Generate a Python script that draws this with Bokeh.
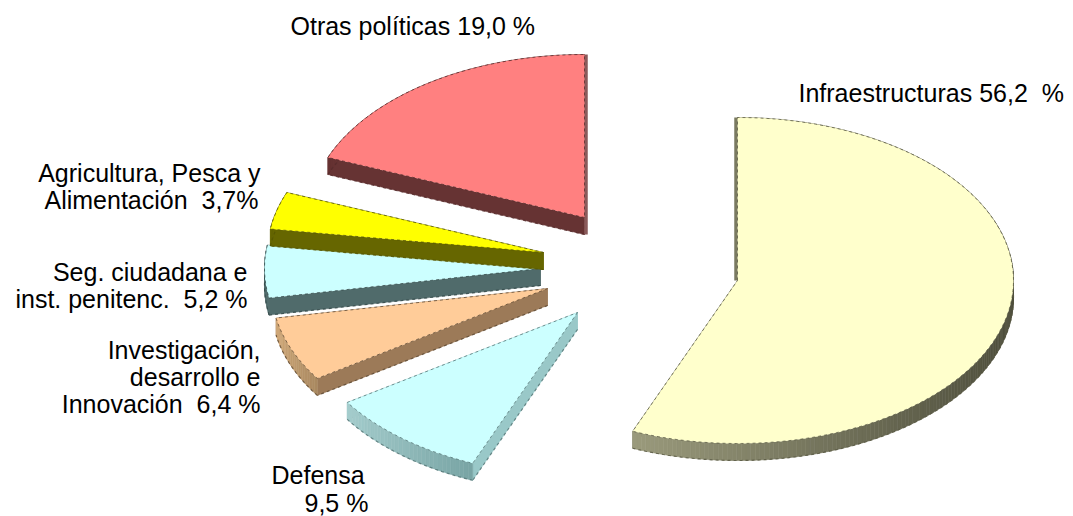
import numpy as np
from bokeh.plotting import figure
from bokeh.core.properties import value
from bokeh.embed import file_html
from bokeh.resources import INLINE

# ---- data ----
categories = ["Infraestructuras", "Defensa", "Investigación, desarrollo e Innovación",
              "Seg. ciudadana e inst. penitenc.", "Agricultura, Pesca y Alimentación",
              "Otras políticas"]
shares = [56.2, 9.5, 6.4, 5.2, 3.7, 19.0]

# ---- styles and layout ----
top_colors = ["#FFFFCC", "#CCFFFF", "#FFCC99", "#CCFFFF", "#FFFF00", "#FF8080"]
face_colors = ["#6F6F55", "#99C8C8", "#9C7A58", "#506B6B", "#666600", "#663333"]
strip_colors = ["#7A7A60", "#99C8C8", "#9C7A58", "#506B6B", "#666600", "#8A5A5A"]
rim_left = ["#9A9A7C", "#A4CCCC", "#D0A878", "#506B6B", "#666600", "#663333"]
rim_right = ["#4E4E3C", "#78A4A4", "#A88860", "#506B6B", "#666600", "#663333"]
edge_colors = ["#55553F", "#4F7070", "#5A4630", "#2F4545", "#555500", "#552A2A"]
apex_x = [737, 577, 547, 540, 543, 584]
apex_y = [280, 312, 288, 268, 252, 217]
RX, RY, DEPTH = 276, 163, 17
draw_order = [5, 3, 4, 2, 1, 0]

label_lines = [
    ("Otras políticas 19,0 %", 290, 25, "left"),
    ("Infraestructuras 56,2\u00a0 %", 798, 92, "left"),
    ("Agricultura, Pesca y", 260, 172, "right"),
    ("Alimentación\u00a0 3,7%", 258, 199, "right"),
    ("Seg. ciudadana e", 247, 271, "right"),
    ("inst. penitenc.\u00a0 5,2 %", 247, 298, "right"),
    ("Investigación,", 260, 349, "right"),
    ("desarrollo e", 260, 376, "right"),
    ("Innovación\u00a0 6,4 %", 260, 403, "right"),
    ("Defensa", 271, 474, "left"),
    ("9,5 %", 304, 502, "left"),
]


def hex_rgb(c):
    return np.array([int(c[i:i + 2], 16) for i in (1, 3, 5)], dtype=float)


def mix(a, b, t):
    rgb = (1 - t) * hex_rgb(a) + t * hex_rgb(b)
    return "#%02x%02x%02x" % tuple(int(round(v)) for v in rgb)


p = figure(width=1073, height=516, x_range=(0, 1073), y_range=(516, 0),
           output_backend="svg", toolbar_location=None, x_axis_type=None,
           y_axis_type=None, min_border=0, outline_line_color=None)
p.grid.visible = False
p.background_fill_color = "#FFFFFF"

bounds = np.concatenate([[0], np.cumsum(shares)]) / sum(shares) * 2 * np.pi

for i in draw_order:
    a0, a1 = bounds[i], bounds[i + 1]
    cx, cy = apex_x[i], apex_y[i]
    t = np.linspace(a0, a1, max(8, int((a1 - a0) * 60)))
    ax = cx + RX * np.sin(t)
    ay = cy - RY * np.cos(t)

    # radial cut faces (extruded downward)
    for ang in (a1, a0):
        ex, ey = cx + RX * np.sin(ang), cy - RY * np.cos(ang)
        p.patch([cx, ex, ex, cx], [cy, ey, ey + DEPTH, cy + DEPTH],
                fill_color=face_colors[i], line_color=face_colors[i], line_width=0.5)
        p.line([cx, ex], [cy + DEPTH, ey + DEPTH], line_color=edge_colors[i],
               line_width=1.2, line_alpha=0.8, line_dash="3 3")

    # rim, shaded from left to right
    xs, ys, cols = [], [], []
    xmin, xmax = ax.min(), ax.max()
    for k in range(len(t) - 1):
        xs.append([ax[k], ax[k + 1], ax[k + 1], ax[k]])
        ys.append([ay[k], ay[k + 1], ay[k + 1] + DEPTH, ay[k] + DEPTH])
        f = ((ax[k] + ax[k + 1]) / 2 - xmin) / max(xmax - xmin, 1)
        cols.append(mix(rim_left[i], rim_right[i], f))
    p.patches(xs, ys, fill_color=cols, line_color=cols, line_width=0.6)
    p.line(ax, ay + DEPTH, line_color=edge_colors[i], line_width=1.2,
           line_alpha=0.8, line_dash="3 3")

    # the vertical cut faces read as a thin strip
    for ang, side in ((a0, -1), (a1, 1)):
        if abs(np.sin(ang)) < 1e-6:
            sx = cx + side * 1.5
            p.line([sx, sx], [cy - RY, cy + (DEPTH if side > 0 else 0)],
                   line_color=strip_colors[i], line_width=3.5)

    # top surface
    px = np.concatenate([[cx], ax])
    py = np.concatenate([[cy], ay])
    p.patch(px, py, fill_color=top_colors[i], line_color=None)
    p.line(np.append(px, cx), np.append(py, cy), line_color=edge_colors[i],
           line_width=1, line_alpha=0.75, line_dash="3 3")

for txt, x, y, align in label_lines:
    p.text([x], [y], text=[txt], text_font=value("Liberation Sans"),
           text_font_size="25px", text_color="#000000",
           text_align=align, text_baseline="middle")

open("out.html", "w").write(file_html(p, INLINE))
